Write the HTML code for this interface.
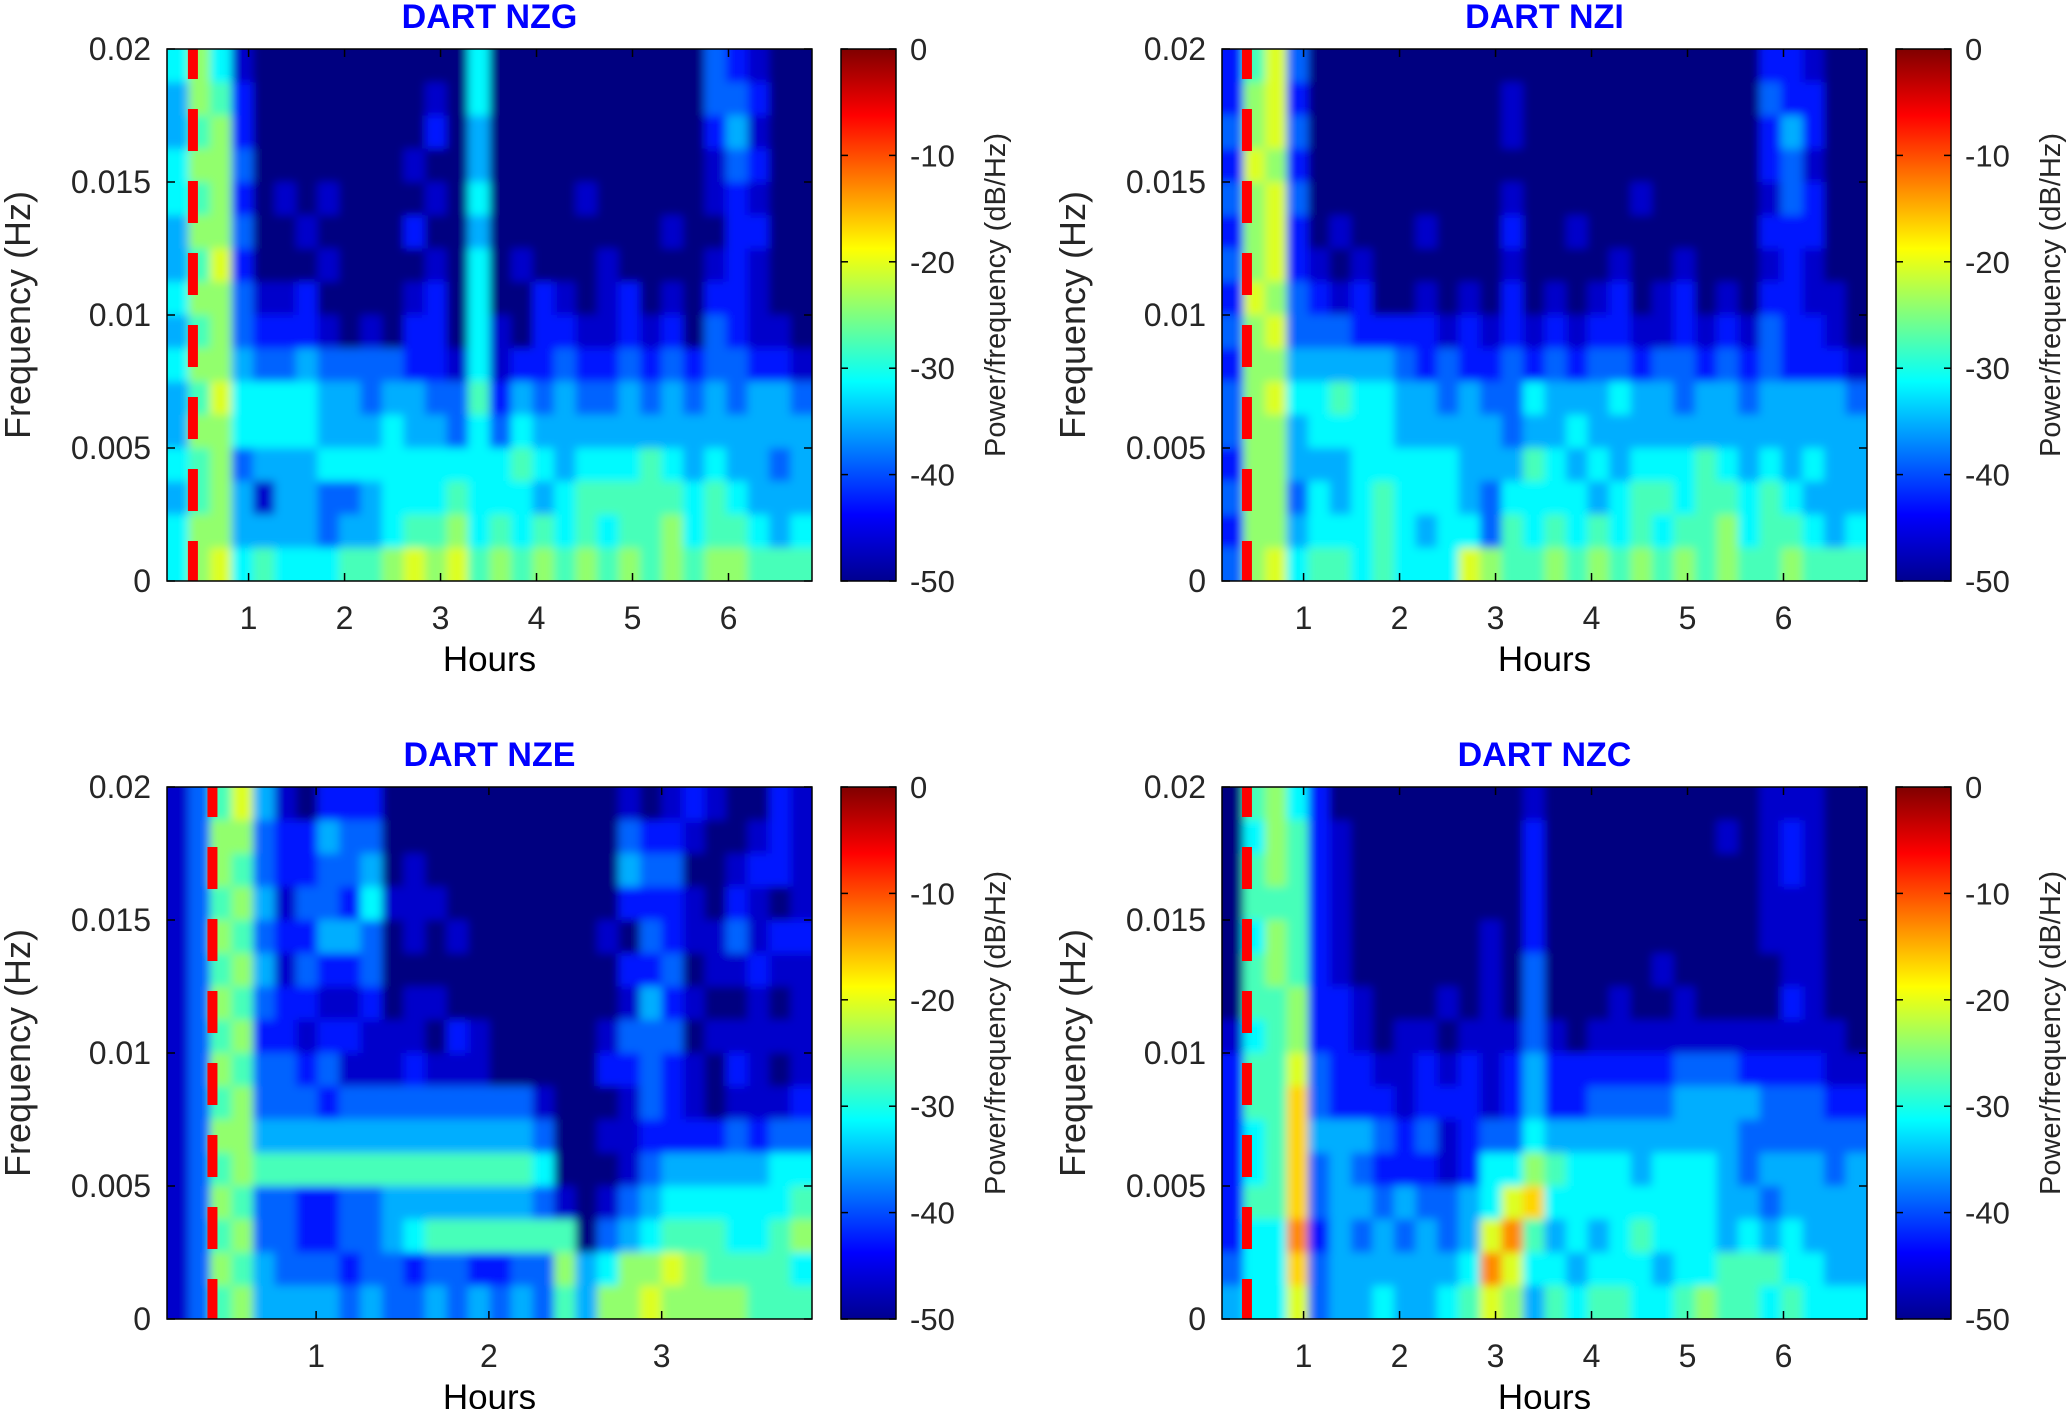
<!DOCTYPE html>
<html><head><meta charset="utf-8"><style>
html,body{margin:0;padding:0;background:#fff;}
svg{display:block;font-family:"Liberation Sans","DejaVu Sans",sans-serif;}
</style></head><body>
<svg id="fig" width="2067" height="1409" viewBox="0 0 2067 1409" xmlns="http://www.w3.org/2000/svg">
<defs>
<linearGradient id="jetgrad" x1="0" y1="1" x2="0" y2="0">
<stop offset="0" stop-color="#00008f"/><stop offset="0.125" stop-color="#0000ff"/>
<stop offset="0.375" stop-color="#00ffff"/><stop offset="0.625" stop-color="#ffff00"/>
<stop offset="0.875" stop-color="#ff0000"/><stop offset="1" stop-color="#800000"/>
</linearGradient>
<filter id="soft" x="-5%" y="-5%" width="110%" height="110%"><feGaussianBlur stdDeviation="4.5"/></filter>
</defs>
</svg>
<script>
// ---------- data ----------
const panelTitles = ["DART NZG","DART NZI","DART NZE","DART NZC"];
const hourRanges = [[0.15,6.87],[0.15,6.87],[0.137,3.87],[0.15,6.87]];
const hourTicks = [[1,2,3,4,5,6],[1,2,3,4,5,6],[1,2,3],[1,2,3,4,5,6]];
const freqTicks = [0,0.005,0.01,0.015,0.02];
const freqTickLabels = ["0","0.005","0.01","0.015","0.02"];
const cbarTicks = [0,-10,-20,-30,-40,-50];
const arrivalHours = [0.42,0.41,0.4,0.41];
// spectrogram levels (hex 0..b), rows from 0.02 Hz (top) down to 0 Hz
const gridNZG = [
"575100 000000 005000 000000 032100","476200 000000 105000 000000 033200",
"467200 000000 204000 000000 024100","577300 000001 004000 000000 013200",
"567201 010000 105000 010000 012100","477300 100002 004000 000001 002200",
"468200 010000 105010 001000 012100","577311 200001 205002 101201 022100",
"467322 210102 205102 211212 032110","577433 433332 215122 322323 233221",
"468555 544344 336243 433434 343443","477555 544454 435354 444444 444444",
"567344 455555 555565 455565 454434","467414 433455 565554 566666 565444",
"577444 434456 675656 565667 566545","578565 556678 786767 676767 677666"];
const gridNZI = [
"268300 000000 000000 000000 022100","278200 000000 010000 000000 032200",
"378300 000000 010000 000000 024200","287200 000000 000000 000000 023100",
"378300 000000 010000 010000 013200","278201 000100 020010 000000 022200",
"378210 100000 010000 100100 012100","287321 200101 020101 201201 022110",
"378333 222212 121212 211212 132210","277444 443232 232323 323323 232221",
"378556 554434 335444 544344 344443","377455 554444 434454 444444 444444",
"277444 555554 446545 455565 454544","377354 565554 355554 566566 565444",
"277455 565455 365656 565667 566545","378566 565558 766767 676767 667666"];
const gridNZE = [
"136841 022200 000000 000101 210021","137732 243300 000000 000322 100121",
"137632 233401 000000 000433 001221","136741 332511 100000 000222 102101",
"137632 244301 010000 001032 113122","136741 322300 000000 000223 011211",
"137632 211201 100000 000142 100101","136722 122111 021000 001333 011111",
"137633 231112 111000 002232 102101","136733 323333 333331 000132 101112",
"137744 444444 444443 001122 223233","136766 666666 666665 000134 444455",
"137633 223344 444443 101345 555556","136733 223345 666666 603456 665567",
"137643 332332 332233 745778 766665","136744 443433 434343 647787 777666"];
const gridNZC = [
"067520 000000 001000 000000 011100","057621 000000 002000 000001 012100",
"067621 000000 002000 000000 012100","066621 000000 002000 000000 011100",
"057621 000000 102000 000000 011100","067621 000000 103000 001000 001100",
"066722 100010 103000 100100 002100","156722 101101 113101 111111 111110",
"266832 211212 124222 222333 222211","266932 221222 124223 333444 433322",
"256944 432312 335444 444444 333333","256934 322212 557655 545554 344434",
"266934 434334 589555 555554 434444","255a24 343434 8a6454 565554 545444",
"355934 444445 a85545 554556 665544","455834 454456 874656 655676 656555"];
const grids = [gridNZG,gridNZI,gridNZE,gridNZC];

// ---------- drawing ----------
const NS="http://www.w3.org/2000/svg";
const svg=document.getElementById('fig');
function mk(tag,attrs,parent){const e=document.createElementNS(NS,tag);for(const k in attrs)e.setAttribute(k,attrs[k]);(parent||svg).appendChild(e);return e;}
function jet(t){t=Math.max(0,Math.min(1,t));const c=v=>Math.round(255*Math.max(0,Math.min(1,v)));
return `rgb(${c(1.5-Math.abs(4*t-3))},${c(1.5-Math.abs(4*t-2))},${c(1.5-Math.abs(4*t-1))})`;}
function levelToDb(L){return -50+3.7*L;}
const offsets=[[0,0],[1055,0],[0,738],[1055,738]];
const L0=167,T0=49,W=645,H=532,CBX=841,CBW=55;
const keys=['nzg','nzi','nze','nzc'];

offsets.forEach((off,p)=>{
  const ox=off[0],oy=off[1];const L=L0+ox,T=T0+oy;
  const hr=hourRanges[p];
  const xs=h=>L+(h-hr[0])/(hr[1]-hr[0])*W;
  const ys=f=>T+H-(f/0.02)*H;
  const g=mk('g',{});
  
  
  const cp=mk('clipPath',{id:'clip'+p},g);mk('rect',{x:L,y:T,width:W,height:H},cp);
  const hg=mk('g',{'clip-path':`url(#clip${p})`},g);
  
  
  mk('rect',{x:L,y:T,width:W,height:H,fill:'#00008f'},hg);
  const inner=mk('g',{filter:'url(#soft)'},hg);
  const rows=grids[p].map(r=>r.replace(/ /g,''));
  const nR=rows.length;
  rows.forEach((row,ri)=>{
    const nC=row.length;
    for(let ci=0;ci<nC;ci++){
      const lv=parseInt(row[ci],16);
      const db=levelToDb(lv);
      const h0=hr[0]+ci*(hr[1]-hr[0])/nC,h1=hr[0]+(ci+1)*(hr[1]-hr[0])/nC;
      const f1=0.02*(1-ri/nR),f0=0.02*(1-(ri+1)/nR);
      const x0=xs(h0),x1=xs(h1),y0=ys(f1),y1=ys(f0);
      const ex=(ci==0?-12:0),ex2=(ci==nC-1?12:0),ey=(ri==0?-12:0),ey2=(ri==nR-1?12:0);
      const r=mk('rect',{x:x0+ex,y:y0+ey,width:x1-x0+1-ex+ex2,height:y1-y0+1-ey+ey2,fill:jet((db+50)/50)},inner);
      
      
    }
  });
  const ax=xs(arrivalHours[p]);
  const al=mk('line',{x1:ax,y1:T,x2:ax,y2:T+H,stroke:'#ff0000','stroke-width':10,'stroke-dasharray':'42 30','stroke-dashoffset':12},hg);
  
  
  const box=mk('rect',{x:L,y:T,width:W,height:H,fill:'none',stroke:'#000','stroke-width':1.5},g);
  
  
  freqTicks.forEach((f,i)=>{const y=ys(f);
    mk('line',{x1:L,y1:y,x2:L+8,y2:y,stroke:'#000','stroke-width':1.5},g);
    mk('line',{x1:L+W,y1:y,x2:L+W-8,y2:y,stroke:'#000','stroke-width':1.5},g);
    const t=mk('text',{x:L-16,y:y+11,'text-anchor':'end','font-size':32,fill:'#262626'},g);
    t.textContent=freqTickLabels[i];
    
    
  });
  hourTicks[p].forEach(h=>{const x=xs(h);
    mk('line',{x1:x,y1:T+H,x2:x,y2:T+H-8,stroke:'#000','stroke-width':1.5},g);
    mk('line',{x1:x,y1:T,x2:x,y2:T+8,stroke:'#000','stroke-width':1.5},g);
    const t=mk('text',{x:x,y:T+H+48,'text-anchor':'middle','font-size':32,fill:'#262626'},g);
    t.textContent=String(h);
    
    
  });
  const xl=mk('text',{x:L+W/2,y:T+H+90,'text-anchor':'middle','font-size':35,fill:'#000'},g);
  xl.textContent='Hours';
  
  
  const yl=mk('text',{x:0,y:0,'text-anchor':'middle','font-size':36,fill:'#262626',transform:`translate(${30+ox},${T+H/2}) rotate(-90)`},g);
  yl.textContent='Frequency (Hz)';
  
  
  const tt=mk('text',{x:L+W/2,y:T-21,'text-anchor':'middle','font-size':34,'font-weight':'bold',fill:'#0000ff'},g);
  tt.textContent=panelTitles[p];
  
  
  const cx=CBX+ox;
  const cb=mk('rect',{x:cx,y:T,width:CBW,height:H,fill:'url(#jetgrad)',stroke:'#000','stroke-width':1.5},g);
  
  
  cbarTicks.forEach(v=>{const y=T+(-v/50)*H;
    mk('line',{x1:cx,y1:y,x2:cx+7,y2:y,stroke:'#000','stroke-width':1.5},g);
    mk('line',{x1:cx+CBW,y1:y,x2:cx+CBW-7,y2:y,stroke:'#000','stroke-width':1.5},g);
    const t=mk('text',{x:cx+CBW+14,y:y+11,'font-size':31,fill:'#262626'},g);
    t.textContent=String(v);
    
    
  });
  const ct=mk('text',{x:0,y:0,'text-anchor':'middle','font-size':29,fill:'#262626',transform:`translate(${cx+164},${T+H/2-20}) rotate(-90)`},g);
  ct.textContent='Power/frequency (dB/Hz)';
  
  
});
</script>
</body></html>
